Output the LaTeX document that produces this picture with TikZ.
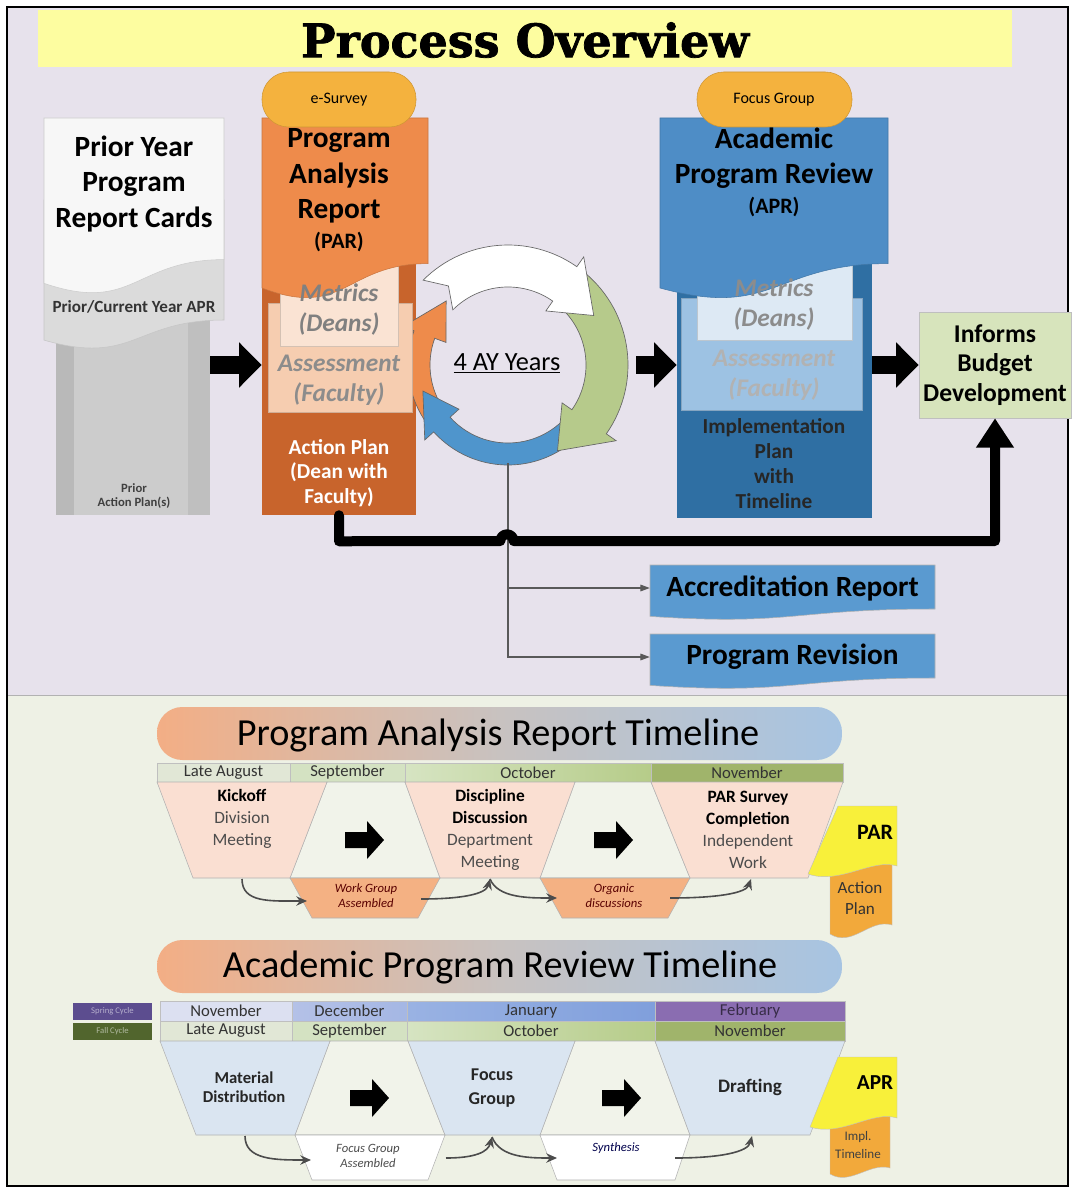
\documentclass[tikz,border=0pt]{standalone}
\usepackage{fontspec}
\setmainfont{Carlito}
\newfontfamily\titlefont[BoldFeatures={FakeBold=1.6}]{DejaVu Serif}
\usetikzlibrary{calc,arrows.meta,positioning}

\definecolor{bgtop}{HTML}{E7E2EC}
\definecolor{bgbot}{HTML}{EEF1E5}
\definecolor{titleyel}{HTML}{FDFDA0}
\definecolor{parorange}{HTML}{EE8B4B}
\definecolor{pardark}{HTML}{C8642C}
\definecolor{parpeach}{HTML}{F6CDB0}
\definecolor{parpale}{HTML}{FAE3D3}
\definecolor{pillorange}{HTML}{F4B23E}
\definecolor{aprblue}{HTML}{4E8DC6}
\definecolor{aprdark}{HTML}{2F6FA3}
\definecolor{aprlight}{HTML}{9DC2E3}
\definecolor{aprpale}{HTML}{DDE9F4}
\definecolor{ringgreen}{HTML}{B6CA8B}
\definecolor{ringblue}{HTML}{4F95CC}
\definecolor{budgetgreen}{HTML}{D7E4BC}
\definecolor{reportblue}{HTML}{5A9AD0}
\definecolor{trappink}{HTML}{FADFD2}
\definecolor{trapblue}{HTML}{DAE5F1}
\definecolor{trapmid}{HTML}{F1F3EA}
\definecolor{stepor}{HTML}{F4B183}
\definecolor{docyellow}{HTML}{F8F03A}
\definecolor{docorange}{HTML}{F2A93B}
\definecolor{bannerL}{HTML}{F3AE85}
\definecolor{bannerM}{HTML}{C8C2C0}
\definecolor{bannerR}{HTML}{A7C4E2}
\definecolor{monA}{HTML}{E1E7D6}
\definecolor{monB}{HTML}{D4E2C2}
\definecolor{monC}{HTML}{D6E4C2}
\definecolor{monD}{HTML}{B6CC89}
\definecolor{monE}{HTML}{A0B46B}
\definecolor{sprA}{HTML}{DCE0F1}
\definecolor{sprB}{HTML}{B4C1E7}
\definecolor{sprC}{HTML}{809FDC}
\definecolor{sprD}{HTML}{8A6DB1}
\definecolor{springbox}{HTML}{5C4D8F}
\definecolor{fallbox}{HTML}{51652D}

\newcommand{\fsz}[2]{\fontsize{#1}{#2}\selectfont}
\newcommand{\stepbold}[1]{\textbf{\color{black}#1}}

\tikzset{
    every node/.style = {
        align=center,
        inner sep=0pt,
        },
    big head/.style = {
        font={\fsz{22}{26.5}\bfseries},
        },
    sub head/.style = {
        font={\fsz{16.5}{18}\bfseries},
        },
    panel/.style = {
        font={\fsz{19}{22.5}\bfseries\itshape},
        text=black!50,
        },
    pill/.style = {
        fill=pillorange,
        draw=pillorange!85!black,
        line width=0.4pt,
        rounded corners=20pt,
        },
    pill text/.style = {
        font={\fsz{12}{14}},
        },
    block arrow/.style = {
        line width=13.5pt,
        -{Triangle[length=17pt,width=33pt]},
        },
    loop line/.style = {
        line width=7.5pt,
        line join=round,
        line cap=round,
        -{Triangle[length=22pt,width=27pt]},
        },
    thin arrow/.style = {
        draw=black!65,
        line width=0.8pt,
        -{Triangle[length=7pt,width=5pt]},
        },
    ring/.style = {
        draw=black!60,
        line width=0.5pt,
        },
    report/.style = {
        fill=reportblue,
        draw=gray!60,
        line width=0.4pt,
        },
    report text/.style = {
        font={\fsz{22}{24}\bfseries},
        },
    banner/.style = {
        rounded corners=19pt,
        left color=bannerL,
        right color=bannerR,
        middle color=bannerM,
        },
    banner text/.style = {
        font={\fsz{28.7}{32}},
        },
    month/.style = {
        draw=gray!50,
        line width=0.4pt,
        },
    month text/.style = {
        font={\fsz{12.5}{13}},
        text=black!80,
        },
    trap/.style = {
        draw=gray!60,
        line width=0.4pt,
        },
    step text/.style = {
        font={\fsz{13}{16.5}},
        text=black!70,
        },
    small step/.style = {
        font={\fsz{9.5}{11.25}\itshape},
        text=black!70,
        },
    curve arrow/.style = {
        draw=black!70,
        line width=1.2pt,
        -{Stealth[length=8pt,width=7pt]},
        },
    tag doc/.style = {
        draw=gray!50,
        line width=0.3pt,
        },
}

\newcommand{\docshape}[5]{\path[#1] (#2,#3) -- (#4,#3) -- (#4,{#3+0.8*(#5-#3)}) .. controls ({(#2+#4)/2},{#3+0.8*(#5-#3)}) and ({(#2+#4)/2},{#3+1.107*(#5-#3)}) .. (#2,{#3+0.934*(#5-#3)}) -- cycle;}
\newcommand{\trapezoid}[7]{\path[#1] (#2,#6) -- (#3,#6) -- (#5,#7) -- (#4,#7) -- cycle;}
\newcommand{\blockarrow}[2]{\fill[shift={(#1,#2)}] (-18,-8) -- (4,-8) -- (4,-19) -- (21,0) -- (4,19) -- (4,8) -- (-18,8) -- cycle;}
\newcommand{\ringarrow}[5]{%
    \pgfmathsetlengthmacro{\rmid}{(58.5+#5)/2*1pt}%
    \pgfmathsetlengthmacro{\rhout}{(#5+9)*1pt}%
    \path[ring, fill=#1] ($(ctr)+(#2:#5pt)$) arc[start angle=#2, end angle=#3, radius=#5pt]
        -- ($(ctr)+(#3:\rhout)$) -- ($(ctr)+(#4:\rmid)$) -- ($(ctr)+(#3:49.5pt)$)
        -- ($(ctr)+(#3:58.5pt)$) arc[start angle=#3, end angle=#2, radius=58.5pt]
        -- ($(ctr)+({#2-8}:\rmid)$) -- cycle;}

\begin{document}
\begin{tikzpicture}[x=0.75pt, y=-0.75pt]
    \useasboundingbox (0,0) rectangle (1073,1191);
    \fill[white] (0,0) rectangle (1073,1191);
    \fill[bgtop] (7,7) rectangle (1068,695);
    \fill[bgbot] (7,695) rectangle (1068,1186);
    \draw[gray!60] (7,695) -- (1068,695);
    \draw[line width=1.2pt] (7,7) rectangle (1068,1186);

    \fill[titleyel] (38,10) rectangle (1012,67);
    \node[font={\titlefont\fsz{34.5}{36}\bfseries}] (title) at (525,40) {Process Overview};

    % prior year cards
    \node[fill=gray!40, minimum width=115.5pt, minimum height=161.25pt] (priorlow) at (133,407.5) {};
    \fill[gray!55] (56,300) rectangle (74,515);
    \fill[gray!50] (188,300) rectangle (210,515);
    \docshape{fill=gray!28, draw=gray!45}{44}{200}{224}{350}
    \docshape{fill=gray!6, draw=gray!40}{44}{118}{224}{295}
    \node[big head] (prior) at (134,184) {Prior Year\\Program\\Report Cards};
    \node[font={\fsz{12.8}{14}\bfseries}, text=black!80] (priorapr) at (134,307) {Prior/Current Year APR};
    \node[font={\fsz{9.5}{11}\bfseries}, text=black!75] (prioraction) at (134,496) {Prior\\Action Plan(s)};

    % program analysis report
    \node[fill=pardark, minimum width=115.5pt, minimum height=192.75pt] (parlow) at (339,386.5) {};
    \coordinate (ctr) at (508,365);
    \ringarrow{parorange}{215}{160}{134}{75}
    \ringarrow{ringblue}{-40}{-138}{-163}{75}
    \ringarrow{ringgreen}{50}{-35}{-60}{90}
    \ringarrow{white}{135}{55}{30}{90}
    \node[circle, minimum size=192pt] (ring) at (ctr) {};
    \node[font={\fsz{19.7}{22}}] (years) at (507,363) {\underline{4 AY Years}};

    \path[fill=parpeach, draw=parpeach!85!black, line width=0.3pt] (268,303) rectangle (412,412);
    \path[fill=parpale, draw=parpale!85!black, line width=0.3pt] (280,262) rectangle (398,346);
    \docshape{fill=parorange, draw=parorange!85!black, line width=0.4pt}{262}{118}{428}{300}
    \path[pill] (262,72) rectangle (416,127);
    \node[pill text] (esurvey) at (339,100) {e-Survey};
    \node[big head] (par) at (339,176) {Program\\Analysis\\Report};
    \node[sub head] (parabbr) at (339,242) {(PAR)};
    \node[panel] (parmetrics) at (339,310) {Metrics\\(Deans)};
    \node[panel, text=black!45] (parassess) at (339,380) {Assessment\\(Faculty)};
    \node[font={\fsz{16}{18.5}\bfseries}, text=white] (paraction) at (339,473) {Action Plan\\(Dean with\\Faculty)};

    % academic program review
    \node[fill=aprdark, minimum width=146.25pt, minimum height=201pt] (aprlow) at (774.5,384) {};
    \path[fill=aprlight, draw=aprlight!85!black, line width=0.3pt] (681,298) rectangle (862,410);
    \path[fill=aprpale, draw=aprpale!85!black, line width=0.3pt] (697,262) rectangle (852,340);
    \docshape{fill=aprblue, draw=aprblue!85!black, line width=0.4pt}{660}{118}{888}{300}
    \path[pill] (697,72) rectangle (852,127);
    \node[pill text] (focus) at (774,100) {Focus Group};
    \node[big head] (apr) at (774,158.5) {Academic\\Program Review};
    \node[sub head] (aprabbr) at (774,207) {(APR)};
    \node[panel, text=black!45] (aprmetrics) at (774,305) {Metrics\\(Deans)};
    \node[panel, text=black!30] (aprassess) at (774,375) {Assessment\\(Faculty)};
    \node[font={\fsz{16}{18.75}\bfseries}, text=black!85] (aprimpl) at (774,463.5) {Implementation\\Plan\\with\\Timeline};

    \node[fill=budgetgreen, draw=gray!50, minimum width=114pt, minimum height=79.5pt, font={\fsz{19.2}{22}\bfseries}] (budget) at (995,365) {Informs\\Budget\\Development};

    \draw[block arrow] (priorlow.east |- ctr) -- (parlow.west |- ctr);
    \draw[block arrow] (ring.east) -- (aprlow.west |- ctr);
    \draw[block arrow] (aprlow.east |- ctr) -- (budget.west |- ctr);

    % outcomes
    \docshape{report}{650}{565}{935}{620}
    \docshape{report}{650}{634}{935}{689}
    \node[report text, minimum width=213.75pt] (acc) at (792.5,588) {Accreditation Report};
    \node[report text, minimum width=213.75pt] (rev) at (792.5,657) {Program Revision};
    \coordinate (ringbot) at (508,463);
    \draw[thin arrow] (ringbot) |- (acc.west);
    \draw[thin arrow] (ringbot) |- (rev.west);
    \draw[loop line] (parlow.south) -- ++(0,26) -- (500.3,541) arc[start angle=180, end angle=0, radius=5pt] -| (budget.south);

    % program analysis report timeline
    \path[banner] (157,707) rectangle (842,760);
    \node[banner text] (partitle) at (498,735) {Program Analysis Report Timeline};
    \path[month, fill=monA] (157,763) rectangle (290,782);
    \path[month, fill=monB] (290,763) rectangle (405,782);
    \path[month, left color=monC, right color=monD] (405,763) rectangle (651,782);
    \path[month, fill=monE] (651,763) rectangle (843,782);
    \node[month text] (pm1) at (223.5,772.5) {Late August};
    \node[month text] (pm2) at (347.5,772.5) {September};
    \node[month text] (pm3) at (528,772.5) {October};
    \node[month text] (pm4) at (747,772.5) {November};

    \trapezoid{trap, fill=trapmid}{327}{405}{290}{440}{782}{878}
    \trapezoid{trap, fill=trapmid}{575}{651}{540}{690}{782}{878}
    \trapezoid{trap, fill=trappink}{157}{327}{193}{290}{782}{878}
    \trapezoid{trap, fill=trappink}{405}{575}{440}{540}{782}{878}
    \trapezoid{trap, fill=trappink}{651}{843}{690}{808}{782}{878}
    \trapezoid{trap, fill=stepor}{290}{440}{312}{418}{878}{918}
    \trapezoid{trap, fill=stepor}{540}{690}{562}{668}{878}{918}
    \blockarrow{363}{840}
    \blockarrow{612}{840}

    \node[step text] (kickoff) at (242,818.5) {\stepbold{Kickoff}\\Division\\Meeting};
    \node[step text] (discipline) at (490,829.5) {\stepbold{Discipline}\\\stepbold{Discussion}\\Department\\Meeting};
    \node[step text] (survey) at (748,829.5) {\stepbold{PAR Survey}\\\stepbold{Completion}\\Independent\\Work};
    \node[small step, text=red!35!black] (workgroup) at (366,896) {Work Group\\Assembled};
    \node[small step, text=red!35!black] (organic) at (614,896) {Organic\\discussions};

    \coordinate (kick-b) at (242,879);
    \coordinate (work-w) at (307,901);
    \coordinate (work-e) at (421,899);
    \coordinate (disc-b) at (490,879);
    \coordinate (org-w) at (557,898);
    \coordinate (org-e) at (670,898);
    \coordinate (surv-b) at (751,879);
    \draw[curve arrow] (kick-b) .. controls (242,903) and (270,901) .. (work-w);
    \draw[curve arrow] (work-e) .. controls (462,899) and (486,894) .. (disc-b);
    \draw[curve arrow] (disc-b) .. controls (498,898) and (528,898) .. (org-w);
    \draw[curve arrow] (org-e) .. controls (718,898) and (746,893) .. (surv-b);

    \path[tag doc, fill=docorange] (830,860) -- (892,860) -- (892,925) .. controls (870,918) and (852,948) .. (830,934) -- cycle;
    \path[tag doc, fill=docyellow] (838,806) -- (897,806) -- (897,866) .. controls (872,858) and (840,885) .. (808,874) -- cycle;
    \node[font={\fsz{16.5}{18}\bfseries}] (partag) at (875,832) {PAR};
    \node[font={\fsz{12.8}{15.75}}, text=black!80] (actiontag) at (860,898) {Action\\Plan};

    % academic program review timeline
    \path[banner] (157,940) rectangle (842,993);
    \node[banner text] (aprtitle) at (500,967) {Academic Program Review Timeline};
    \node[fill=springbox, minimum width=59.25pt, minimum height=12.75pt, font={\fsz{6.5}{7}}, text=springbox!45!white] (spring) at (112.5,1011.5) {Spring Cycle};
    \node[fill=fallbox, minimum width=59.25pt, minimum height=12.75pt, font={\fsz{6.5}{7}}, text=fallbox!45!white] (fall) at (112.5,1031) {Fall Cycle};

    \path[month, fill=sprA] (160,1001) rectangle (292,1021);
    \path[month, left color=sprB, right color=sprB!70!sprC] (292,1001) rectangle (407,1021);
    \path[month, left color=sprC!80!white, right color=sprC] (407,1001) rectangle (655,1021);
    \path[month, fill=sprD] (655,1001) rectangle (845,1021);
    \path[month, fill=monA] (160,1021) rectangle (292,1041);
    \path[month, fill=monB] (292,1021) rectangle (407,1041);
    \path[month, left color=monC, right color=monD] (407,1021) rectangle (655,1041);
    \path[month, fill=monE] (655,1021) rectangle (845,1041);
    \node[month text] (am1) at (226,1011) {November};
    \node[month text] (am2) at (349.5,1011) {December};
    \node[month text] (am3) at (531,1011) {January};
    \node[month text, text=sprD!40!black] (am4) at (750,1011) {February};
    \node[month text] (am5) at (226,1031) {Late August};
    \node[month text] (am6) at (349.5,1031) {September};
    \node[month text] (am7) at (531,1031) {October};
    \node[month text] (am8) at (750,1031) {November};

    \trapezoid{trap, fill=trapmid}{330}{408}{295}{445}{1041}{1135}
    \trapezoid{trap, fill=trapmid}{575}{655}{540}{690}{1041}{1135}
    \trapezoid{trap, fill=trapblue}{160}{330}{196}{295}{1041}{1135}
    \trapezoid{trap, fill=trapblue}{408}{575}{445}{540}{1041}{1135}
    \trapezoid{trap, fill=trapblue}{655}{845}{690}{810}{1041}{1135}
    \trapezoid{trap, fill=white}{295}{445}{312}{428}{1135}{1180}
    \trapezoid{trap, fill=white}{540}{690}{557}{675}{1135}{1180}
    \blockarrow{368}{1098}
    \blockarrow{620}{1098}

    \node[step text, font={\fsz{12.5}{14.25}\bfseries}, text=black!85] (material) at (244,1087.5) {Material\\Distribution};
    \node[step text, font={\fsz{13.5}{18}\bfseries}, text=black!85] (focusstep) at (492,1088) {Focus\\Group};
    \node[step text, font={\fsz{14.3}{16}\bfseries}, text=black!85] (drafting) at (750,1087) {Drafting};
    \node[small step] (assembled) at (368,1156) {Focus Group\\Assembled};
    \node[small step, text=blue!30!black] (synthesis) at (616,1148) {Synthesis};

    \coordinate (mat-b) at (245,1136);
    \coordinate (fga-w) at (311,1160);
    \coordinate (fga-e) at (446,1158);
    \coordinate (foc-b) at (492,1137);
    \coordinate (syn-w) at (557,1158);
    \coordinate (syn-e) at (675,1158);
    \coordinate (dra-b) at (752,1136);
    \draw[curve arrow] (mat-b) .. controls (245,1160) and (275,1160) .. (fga-w);
    \draw[curve arrow] (fga-e) .. controls (475,1158) and (488,1152) .. (foc-b);
    \draw[curve arrow] (foc-b) .. controls (500,1158) and (530,1158) .. (syn-w);
    \draw[curve arrow] (syn-e) .. controls (720,1158) and (748,1152) .. (dra-b);

    \path[tag doc, fill=docorange] (830,1110) -- (890,1110) -- (890,1168) .. controls (870,1162) and (850,1186) .. (830,1174) -- cycle;
    \path[tag doc, fill=docyellow] (838,1057) -- (897,1057) -- (897,1118) .. controls (872,1110) and (842,1137) .. (810,1127) -- cycle;
    \node[font={\fsz{16}{18}\bfseries}] (aprtag) at (875,1083) {APR};
    \node[font={\fsz{9.8}{14}}, text=black!75] (impltag) at (858,1145) {Impl.\\Timeline};
\end{tikzpicture}
\end{document}
